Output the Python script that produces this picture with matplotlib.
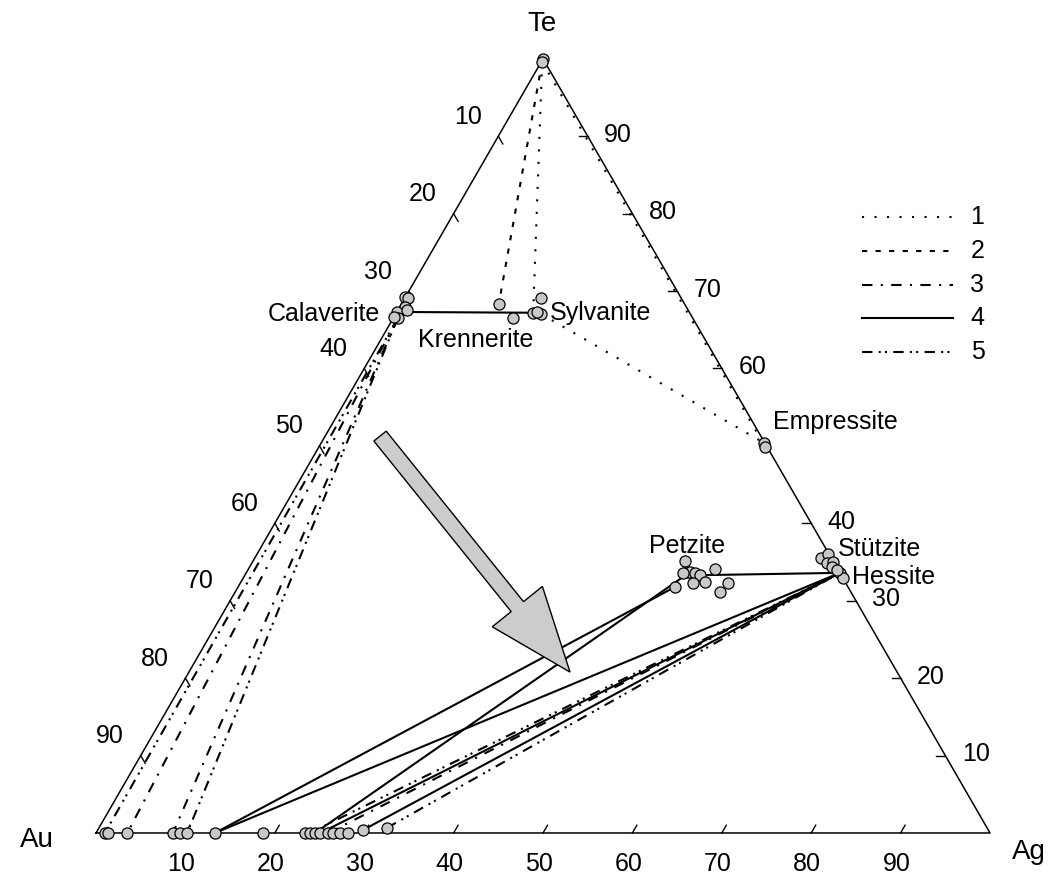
import numpy as np
import matplotlib.pyplot as plt
from matplotlib.patches import FancyArrow

plt.rcParams['font.family'] = ['Liberation Sans', 'DejaVu Sans']

H = np.sqrt(3) / 2

# compositions in at.% (Ag, Te); Au is the remainder
te_ag = [0.0, 0.1]
te_te = [100.0, 99.6]

calaverite_ag = [0.0, 0.4, 0.6, 0.0, 0.5, 0.0, 1.0]
calaverite_te = [69.2, 69.1, 68.0, 67.3, 66.5, 66.7, 67.5]

krennerite_ag = [10.9, 13.4]
krennerite_te = [68.3, 66.5]

sylvanite_ag = [15.3, 15.2, 16.25, 15.7]
sylvanite_te = [67.2, 69.1, 67.05, 67.3]

empressite_ag = [49.5, 49.9]
empressite_te = [50.4, 49.9]

petzite_ag = [48.3, 49.25, 49.6, 50.2, 50.9, 51.9, 50.6, 48.9, 52.2, 54.5, 54.2, 48.9]
petzite_te = [35.1, 33.7, 33.7, 33.6, 33.3, 32.4, 32.3, 31.8, 34.1, 32.3, 31.1, 33.6]

hessite_ag = [63.4, 63.85, 64.3, 64.9, 65.15, 66.4, 67.1, 65.9]
hessite_te = [35.5, 36.05, 34.9, 35.0, 34.4, 33.6, 32.95, 34.0]

alloy_ag = [1.0, 1.3, 3.5, 8.6, 9.4, 10.2, 13.3, 18.7, 23.4, 23.9, 24.5,
            25.1, 26.0, 26.5, 27.3, 28.2, 29.7, 32.2]
alloy_te = [0, 0, 0, 0, 0, 0, 0, 0, 0, 0, 0, 0, 0, 0, 0, 0, 0.4, 0.65]

phases = {
    'te': (te_ag, te_te),
    'cal': (calaverite_ag, calaverite_te),
    'kre': (krennerite_ag, krennerite_te),
    'syl': (sylvanite_ag, sylvanite_te),
    'emp': (empressite_ag, empressite_te),
    'pet': (petzite_ag, petzite_te),
    'hes': (hessite_ag, hessite_te),
    'all': (alloy_ag, alloy_te),
}

# trend lines: (type, start point, end point)
trends = [
    (1, ('te', 1), ('syl', 0)),
    (1, ('te', 1), ('emp', 1)),
    (1, ('syl', 2), ('emp', 0)),
    (2, ('te', 1), ('kre', 0)),
    (4, ('cal', 3), ('syl', 0)),
    (5, ('cal', 4), ('all', 0)),
    (3, ('cal', 4), ('all', 2)),
    (3, ('cal', 4), ('all', 3)),
    (5, ('cal', 4), ('all', 5)),
    (4, ('all', 6), ('pet', 7)),
    (4, ('all', 6), ('hes', 5)),
    (4, ('all', 10), ('pet', 2)),
    (4, ('all', 11), ('hes', 5)),
    (5, ('all', 9), ('hes', 5)),
    (3, ('all', 12), ('hes', 5)),
    (4, ('all', 16), ('hes', 5)),
    (5, ('all', 17), ('hes', 5)),
    (4, ('pet', 4), ('hes', 5)),
]

styles = {
    1: (0, (1, 5)),
    2: (0, (2.5, 4)),
    3: (0, (5, 4, 1, 4)),
    4: '-',
    5: (0, (5, 3, 1, 2, 1, 3)),
}
labels_legend = ['1', '2', '3', '4', '5']
ticks = [10, 20, 30, 40, 50, 60, 70, 80, 90]


def xy(ag, te):
    ag = np.asarray(ag, float)
    te = np.asarray(te, float)
    return ag + te / 2, te * H


def point(ref):
    name, i = ref
    ag, te = phases[name]
    return ag[i], te[i]


fig = plt.figure(figsize=(10.5, 8.8), dpi=100)
ax = fig.add_axes([0, 0, 1, 1])
ax.set_xlim(-10.74, 106.71)
ax.set_ylim(-5.26, 93.18)
ax.axis('off')

# triangle frame
fx, fy = xy([0, 100, 0, 0], [0, 0, 100, 0])
ax.plot(fx, fy, color='black', lw=1.1, zorder=2)

# ticks and tick labels
tl = 1.0
fs = 18
for v in ticks:
    # bottom: Ag
    x0, y0 = xy(v, 0)
    ax.plot([x0, x0 + 0.5 * tl], [y0, y0 + H * tl], color='black', lw=1.0)
    ax.annotate(str(v), (x0, y0), xytext=(-3, -22), textcoords='offset points',
                ha='center', va='center', fontsize=fs)
    # left: Au
    x0, y0 = xy(0, 100 - v)
    ax.plot([x0, x0 + 0.5 * tl], [y0, y0 - H * tl], color='black', lw=1.0)
    ax.annotate(str(v), (x0, y0), xytext=(-22, 14), textcoords='offset points',
                ha='center', va='center', fontsize=fs)
    # right: Te
    if v != 50:
        x0, y0 = xy(100 - v, v)
        ax.plot([x0, x0 - tl], [y0, y0], color='black', lw=1.0)
        ax.annotate(str(v), (x0, y0), xytext=(22, 1), textcoords='offset points',
                    ha='center', va='center', fontsize=fs)

# trend lines
for kind, a, b in trends:
    xa, ya = xy(*point(a))
    xb, yb = xy(*point(b))
    ax.plot([xa, xb], [ya, yb], color='black', lw=1.5,
            linestyle=styles[kind], zorder=3)

# analysed compositions
for name, (ag, te) in phases.items():
    px, py = xy(ag, te)
    ax.plot(px, py, 'o', ms=8, mfc='#c8c8c8', mec='black', mew=0.9, zorder=5)

# arrow
ax.add_patch(FancyArrow(31.77, 44.4, 21.25, -26.4, width=1.77, head_width=7.2,
                        head_length=9.4, length_includes_head=True,
                        facecolor='#cccccc', edgecolor='black', lw=1.0, zorder=4))

# labels
ax.text(49.9, 90.5, 'Te', ha='center', va='center', fontsize=20)
ax.text(-6.6, -0.8, 'Au', ha='center', va='center', fontsize=20)
ax.text(104.4, -2.1, 'Ag', ha='center', va='center', fontsize=20)
ax.text(31.8, 58.05, 'Calaverite', ha='right', va='center', fontsize=fs)
ax.text(42.45, 55.2, 'Krennerite', ha='center', va='center', fontsize=fs)
ax.text(50.8, 58.2, 'Sylvanite', ha='left', va='center', fontsize=fs)
ax.text(75.7, 46.0, 'Empressite', ha='left', va='center', fontsize=fs)
ax.text(66.1, 32.1, 'Petzite', ha='center', va='center', fontsize=fs)
ax.text(83.0, 31.8, 'Stützite', ha='left', va='center', fontsize=fs)
ax.text(84.6, 28.6, 'Hessite', ha='left', va='center', fontsize=fs)

# legend
ly = [68.9, 65.1, 61.3, 57.6, 53.8]
for k, lab, y in zip(styles, labels_legend, ly):
    ax.plot([85.7, 95.9], [y, y], color='black', lw=1.5, linestyle=styles[k])
    ax.text(98.6, y, lab, ha='center', va='center', fontsize=fs)

fig.savefig('out.png', dpi=100)
